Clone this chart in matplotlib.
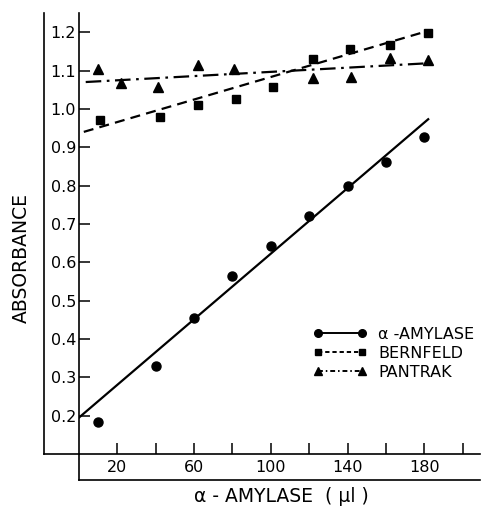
import matplotlib
matplotlib.use("Agg")
import matplotlib.pyplot as plt

# ---- data ----
amy_x = [10, 40, 60, 80, 100, 120, 140, 160, 180]
amy_y = [0.184, 0.330, 0.455, 0.565, 0.643, 0.721, 0.799, 0.861, 0.927]
ber_x = [11, 42, 62, 82, 101, 122, 141, 162, 182]
ber_y = [0.971, 0.979, 1.010, 1.025, 1.057, 1.130, 1.156, 1.166, 1.197]
pan_x = [10, 22, 41, 62, 81, 122, 142, 162, 182]
pan_y = [1.105, 1.067, 1.057, 1.114, 1.104, 1.080, 1.083, 1.132, 1.127]

amy_fit_x = [0, 182]
amy_fit_y = [0.195, 0.973]
ber_fit_x = [2.5, 183]
ber_fit_y = [0.940, 1.205]
pan_fit_x = [3.5, 182]
pan_fit_y = [1.070, 1.119]

xticks = [20, 40, 60, 80, 100, 120, 140, 160, 180, 200]
xticklabels = ["20", "", "60", "", "100", "", "140", "", "180", ""]
yticks = [0.2, 0.3, 0.4, 0.5, 0.6, 0.7, 0.8, 0.9, 1.0, 1.1, 1.2]
yticklabels = ["0.2", "0.3", "0.4", "0.5", "0.6", "0.7", "0.8", "0.9", "1.0", "1.1", "1.2"]

W, H = 490, 509
fig = plt.figure(figsize=(W / 100, H / 100), dpi=100)
ax = fig.add_axes([79 / W, (H - 454) / H, 401 / W, 441 / H])

ax.set_xlim(0, 209)
ax.set_ylim(0.1, 1.25)

lw = 1.6
ax.plot(amy_fit_x, amy_fit_y, color="black", lw=lw, linestyle="-")
ax.plot(ber_fit_x, ber_fit_y, color="black", lw=lw, linestyle=(0, (4.5, 2.8)))
ax.plot(pan_fit_x, pan_fit_y, color="black", lw=lw, linestyle=(0, (7, 2.5, 1.2, 2.5)))

ax.plot(amy_x, amy_y, "o", color="black", ms=6.5, linestyle="none")
ax.plot(ber_x, ber_y, "s", color="black", ms=5.5, linestyle="none")
ax.plot(pan_x, pan_y, "^", color="black", ms=6.5, linestyle="none")

# legend handles (markers at both ends)
h1, = ax.plot([], [], "o-", color="black", ms=5.5, lw=1.4)
h2, = ax.plot([], [], "s--", color="black", ms=5, lw=1.4, dashes=(2.2, 1.5))
h3, = ax.plot([], [], "^-.", color="black", ms=5.5, lw=1.4, dashes=(2.5, 1.5, 0.8, 1.5))
leg = ax.legend([h1, h2, h3], ["\u03b1 -AMYLASE", "BERNFELD", "PANTRAK"],
                numpoints=2, handlelength=3.3, handletextpad=0.75,
                labelspacing=0.24, frameon=False, fontsize=11.5,
                loc="upper left", bbox_to_anchor=(0.585, 0.288),
                borderaxespad=0, borderpad=0)

for s in ["top", "right"]:
    ax.spines[s].set_visible(False)
for s in ["left", "bottom"]:
    ax.spines[s].set_linewidth(1.2)

ax.set_xticks(xticks)
ax.set_xticklabels(xticklabels)
ax.set_yticks(yticks)
ax.set_yticklabels(yticklabels)
ax.tick_params(axis="both", direction="in", length=8, width=1.1,
               labelsize=11.5, pad=2)
ax.tick_params(axis="x", pad=4)

# extra frame lines
dx = -35 / 401
dy = -26 / 441
kw = dict(color="black", lw=1.2, transform=ax.transAxes, clip_on=False)
ax.plot([0, 0], [dy, 0], **kw)
ax.plot([dx, 0], [0, 0], **kw)
ax.plot([dx, dx], [0, 1], **kw)
ax.plot([0, 1], [dy, dy], **kw)

fig.text(21 / W, 1 - 258 / H, "ABSORBANCE", rotation=90, ha="center",
         va="center", fontsize=13.5)
fig.text(281 / W, 1 - 497 / H, "\u03b1 - AMYLASE  ( \u03bcl )", ha="center",
         va="center", fontsize=13.5)

fig.savefig("out.png", dpi=100)
